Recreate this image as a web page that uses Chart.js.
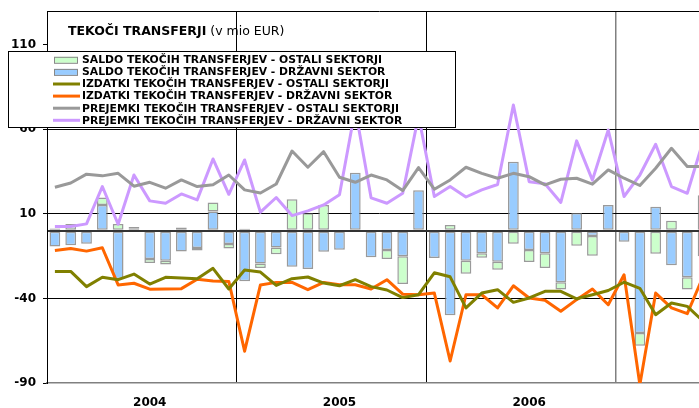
<!DOCTYPE html>
<html>
<head>
<meta charset="utf-8">
<script src="https://cdn.jsdelivr.net/npm/chart.js@4.4.1/dist/chart.umd.min.js"></script>
<style>
body{margin:0;overflow:hidden;background:#fff}
#wrap{width:720px;height:408px}
</style>
</head>
<body>
<div id="wrap"><canvas id="myChart" width="720" height="408"></canvas></div>
<script>
// mesci od jan 2004 do jun 2007
var years = ['2004', '2005', '2006', '2007'];
var monthNames = ['jan','feb','mar','apr','maj','jun','jul','avg','sep','okt','nov','dec'];
var yearLabels = ['2004', '2005', '2006'];
var yTicks = [-90, -40, 10, 60, 110];

var months = [];
years.forEach(function (y) {
	monthNames.forEach(function (m) {
		if (months.length < 42) months.push(m + ' ' + y);
	});
});

var saldoDrzavni = [-9.3, -8.5, -7.7, 15.3, -28.5, 1.5, -16.7, -17.7, -12.2, -10.2, 11.4, -7.8,
	-29.8, -19.3, -9.8, -21.2, -22.6, -12.4, -11.2, 34.4, -15.7, -11.4, -15.1, 24,
	-16.1, -50, -17.7, -13.2, -18.3, 40.9, -11.4, -13.2, -30.4, 10.6, -3.1, 15.2,
	-6.5, -60.4, 14.3, -20.4, -27.4, 21];
var saldoOstali = [1.4, 4.1, 0, 4.4, 4, 0.8, -2.4, -2.2, 2, -1.4, 5.3, -2.6,
	1.2, -2.7, -4.1, 18.7, 10.4, 15.3, 0, 0, 0, -5.3, -16.4, 0,
	0, 3.4, -7.7, -2.8, -4.7, -7.7, -7, -8.8, -4.3, -8.9, -11.7, 0,
	0, -7.5, -13.6, 5.9, -7.3, -15];
var izdatkiOstali = [-24, -24, -33, -27.5, -28.9, -25.6, -31.5, -27.5, -27.9, -28.3, -22.2, -34.4,
	-23.2, -24.4, -32.3, -28.3, -27.3, -30.9, -32.5, -28.9, -33, -35, -39.5, -37.8,
	-24.8, -27.2, -45.6, -36.8, -34.8, -42.3, -39.7, -35.8, -35.8, -40.2, -37.8, -35.3,
	-30.4, -34, -49.6, -42.7, -44.7, -53.5];
var izdatkiDrzavni = [-11.7, -10.4, -12, -10, -32, -31, -34.5, -34.4, -34.2, -28.6, -29.7, -29.9,
	-71.2, -32, -30.5, -30.5, -34.8, -30.5, -31.9, -31.9, -34.4, -28.9, -37.5, -37.8,
	-36.8, -77, -37.8, -37.8, -45.6, -32.5, -39.7, -41.1, -47.6, -40.7, -34.4, -43.7,
	-26, -91, -36.8, -45.6, -49, -27];
var prejemkiOstali = [25.8, 28.3, 33.5, 32.5, 34, 26.4, 28.7, 25.2, 30.1, 26.2, 27.2, 33,
	24.2, 22.4, 27.7, 47.2, 37.6, 46.8, 31.7, 28.7, 33, 30.1, 23.8, 37.4,
	24.6, 30.1, 37.6, 34, 31.1, 34, 32, 27.2, 30.5, 31.1, 27.6, 36,
	31.1, 26.8, 37, 48.8, 38, 38];
var prejemkiDrzavni = [2.6, 2.6, 4.1, 26.2, 3.9, 33, 17.7, 16.3, 21.8, 18.3, 42.5, 21.6,
	41.9, 11, 19.7, 9, 11.8, 15.3, 21.3, 72, 19.5, 16.3, 22.2, 68,
	20.3, 26.2, 20, 24.2, 27.4, 74.4, 29, 27.8, 16.8, 53.2, 30, 59.6,
	20.3, 33, 51.2, 26.2, 22.2, 53];

// vrstni red v legendi (zeleni stolpci so prvi)
var legendOrder = [1, 0, 2, 3, 4, 5];

var fontBold = '"DejaVu Sans", sans-serif';

function tickVal(c) {
	return c.tick ? c.tick.value : null;
}

// naslov in legenda v okvirju, kot v excelu
var boxPlugin = {
	id: 'boxLegend',
	afterDraw: function (chart) {
		var c = chart.ctx;
		c.save();
		c.fillStyle = '#000';
		c.textBaseline = 'alphabetic';
		c.font = 'bold 12.5px ' + fontBold;
		c.fillText('TEKOČI TRANSFERJI', 68, 35);
		var w = c.measureText('TEKOČI TRANSFERJI').width;
		c.font = '12.5px ' + fontBold;
		c.fillText('(v mio EUR)', 68 + w + 4, 35);

		c.fillStyle = '#fff';
		c.fillRect(8, 51, 448, 77);
		c.strokeStyle = '#000';
		c.lineWidth = 1;
		c.strokeRect(8.5, 51.5, 447, 76);

		c.font = 'bold 10.8px ' + fontBold;
		c.textBaseline = 'middle';
		legendOrder.forEach(function (di, i) {
			var ds = chart.data.datasets[di];
			var y = 59.8 + i * 12.1;
			if (ds.type === 'line') {
				c.strokeStyle = ds.borderColor;
				c.lineWidth = 3;
				c.beginPath();
				c.moveTo(53, y);
				c.lineTo(80, y);
				c.stroke();
			} else {
				c.fillStyle = ds.backgroundColor;
				c.fillRect(54, y - 3, 24, 6);
				c.strokeStyle = '#888';
				c.lineWidth = 1;
				c.strokeRect(54.5, y - 2.5, 23, 6);
			}
			c.fillStyle = '#000';
			c.fillText(ds.label, 82, y + 0.5);
		});
		c.restore();
	}
};

var ctx = document.getElementById('myChart').getContext('2d');
var chart = new Chart(ctx, {
	type: 'bar',
	data: {
		labels: months,
		datasets: [{
			label: 'SALDO TEKOČIH TRANSFERJEV - DRŽAVNI SEKTOR',
			data: saldoDrzavni,
			backgroundColor: '#99ccff',
			borderColor: 'rgba(120,120,120,0.75)',
			borderWidth: 1.5,
			borderSkipped: false,
			barPercentage: 0.68,
			categoryPercentage: 1,
			stack: 'saldo',
			order: 2
		}, {
			label: 'SALDO TEKOČIH TRANSFERJEV - OSTALI SEKTORJI',
			data: saldoOstali,
			backgroundColor: '#ccffcc',
			borderColor: 'rgba(120,120,120,0.75)',
			borderWidth: 1.5,
			borderSkipped: false,
			barPercentage: 0.68,
			categoryPercentage: 1,
			stack: 'saldo',
			order: 2
		}, {
			type: 'line',
			label: 'IZDATKI TEKOČIH TRANSFERJEV - OSTALI SEKTORJI',
			data: izdatkiOstali,
			borderColor: '#808000',
			borderWidth: 3,
			pointRadius: 0,
			tension: 0,
			borderJoinStyle: 'round',
			stack: 'l1',
			order: 1
		}, {
			type: 'line',
			label: 'IZDATKI TEKOČIH TRANSFERJEV - DRŽAVNI SEKTOR',
			data: izdatkiDrzavni,
			borderColor: '#ff6600',
			borderWidth: 3,
			pointRadius: 0,
			tension: 0,
			borderJoinStyle: 'round',
			stack: 'l2',
			order: 1
		}, {
			type: 'line',
			label: 'PREJEMKI TEKOČIH TRANSFERJEV - OSTALI SEKTORJI',
			data: prejemkiOstali,
			borderColor: '#999999',
			borderWidth: 3,
			pointRadius: 0,
			tension: 0,
			borderJoinStyle: 'round',
			stack: 'l3',
			order: 1
		}, {
			type: 'line',
			label: 'PREJEMKI TEKOČIH TRANSFERJEV - DRŽAVNI SEKTOR',
			data: prejemkiDrzavni,
			borderColor: '#cc99ff',
			borderWidth: 3,
			pointRadius: 0,
			tension: 0,
			borderJoinStyle: 'round',
			stack: 'l4',
			order: 1
		}]
	},
	options: {
		responsive: false,
		animation: false,
		layout: { padding: { top: 11, right: 9, left: 0, bottom: 0 } },
		plugins: {
			legend: { display: false },
			tooltip: { enabled: false }
		},
		scales: {
			x: { stacked: true, display: false },
			xYear: {
				type: 'linear',
				axis: 'x',
				position: 'bottom',
				offset: false,
				bounds: 'data',
				min: 0,
				max: 42,
				// letnice so pod 7. mesecem, kot v excelu
				afterBuildTicks: function (s) {
					s.ticks = [0, 6.5, 12, 18.5, 24, 30.5, 36, 42].map(function (v) { return { value: v }; });
				},
				afterFit: function (s) {
					s.height = 25;
					s.paddingLeft = 0;
					s.paddingRight = 0;
				},
				grid: {
					offset: false,
					drawTicks: false,
					color: function (c) {
						var v = tickVal(c);
						if (v === 12 || v === 24) return '#000';
						if (v === 36) return '#808080';
						return 'rgba(0,0,0,0)';
					},
					lineWidth: function (c) { return tickVal(c) === 36 ? 1.5 : 1; }
				},
				border: { color: '#808080', width: 1.5 },
				ticks: {
					padding: 13,
					autoSkip: false,
					maxRotation: 0,
					color: '#000',
					font: { family: fontBold, weight: 'bold', size: 12 },
					callback: function (v) {
						var i = [6.5, 18.5, 30.5].indexOf(v);
						return i >= 0 ? yearLabels[i] : '';
					}
				}
			},
			y: {
				stacked: true,
				bounds: 'data',
				min: -90,
				max: 130,
				afterBuildTicks: function (s) {
					s.ticks = [-90, -40, 0, 10, 60, 110, 130].map(function (v) { return { value: v }; });
				},
				afterFit: function (s) {
					s.width = 47;
					s.paddingTop = 0;
					s.paddingBottom = 0;
				},
				grid: {
					tickLength: 4,
					color: function (c) {
						var v = tickVal(c);
						if (v === 0) return '#333';
						if (v === -40 || v === 10 || v === 60 || v === 130) return '#000';
						return 'rgba(0,0,0,0)';
					},
					lineWidth: function (c) { return tickVal(c) === 0 ? 2 : 1; },
					tickColor: function (c) {
						return yTicks.indexOf(tickVal(c)) >= 0 ? '#000' : 'rgba(0,0,0,0)';
					}
				},
				border: { color: '#000', width: 1 },
				ticks: {
					padding: 7,
					color: '#000',
					font: { family: fontBold, weight: 'bold', size: 12 },
					callback: function (v) { return yTicks.indexOf(v) >= 0 ? v : ''; }
				}
			}
		}
	},
	plugins: [boxPlugin]
});
</script>
</body>
</html>
